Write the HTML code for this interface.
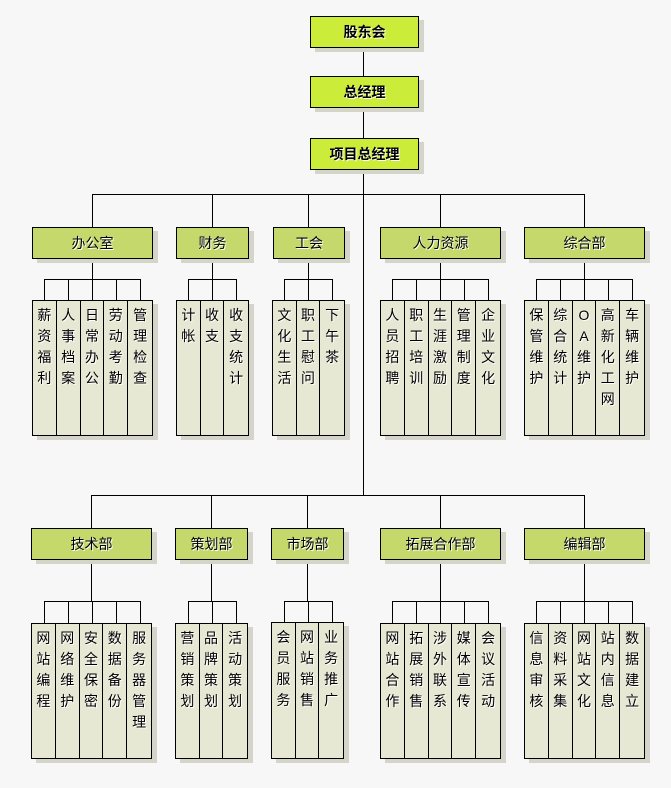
<!DOCTYPE html>
<html><head><meta charset="utf-8"><style>
body{margin:0;background:#f7f7f7;width:671px;height:788px;position:relative;overflow:hidden;font-family:"Liberation Sans","Noto Sans CJK SC","WenQuanYi Zen Hei",sans-serif;}
.b{position:absolute;box-sizing:border-box;border:1px solid #000;text-align:center;font-size:14px;box-shadow:5px 4px 0 #d4d4c8;text-shadow:1px 1px 0 #fff;}
.t{background:#ccec3a;height:32px;line-height:30px;font-weight:bold;left:310px;width:109px;}
.d{background:#c4d86c;height:32px;line-height:30px;}
.g{position:absolute;box-sizing:border-box;border:1px solid #000;display:flex;background:#e6e8d4;box-shadow:5px 4px 0 #d4d4c8;height:136px;}
.l{width:24px;box-sizing:border-box;border-right:1px solid #000;text-align:center;font-size:14px;line-height:21px;padding-top:4px;text-shadow:1px 1px 0 #fff;}
.l:last-child{border-right:none}
svg{position:absolute;left:0;top:0}
</style></head><body>
<svg width="671" height="788" stroke="#000" stroke-width="1" fill="none" shape-rendering="crispEdges">
<path d="M363.5 47V76M363.5 107V138M363.5 169V495"/>
<path d="M92.5 194.5H584.5M92.5 194V227M212.5 194V227M308.5 194V227M440.5 194V227M584.5 194V227"/>
<path d="M92.5 258V279M44.5 279.5H140.5M44.5 279V300M68.5 279V300M92.5 279V300M116.5 279V300M140.5 279V300"/>
<path d="M212.5 258V279M188.5 279.5H236.5M188.5 279V300M212.5 279V300M236.5 279V300"/>
<path d="M308.5 258V279M284.5 279.5H332.5M284.5 279V300M308.5 279V300M332.5 279V300"/>
<path d="M440.5 258V279M392.5 279.5H488.5M392.5 279V300M416.5 279V300M440.5 279V300M464.5 279V300M488.5 279V300"/>
<path d="M584.5 258V279M536.5 279.5H632.5M536.5 279V300M560.5 279V300M584.5 279V300M608.5 279V300M632.5 279V300"/>
<path d="M91.5 495.5H584.5M91.5 495V528M211.5 495V528M307.5 495V528M440.5 495V528M584.5 495V528"/>
<path d="M91.5 560V601M44.5 601.5H140.5M44.5 601V623M68.5 601V623M92.5 601V623M116.5 601V623M140.5 601V623"/>
<path d="M211.5 560V601M188.5 601.5H236.5M188.5 601V623M212.5 601V623M236.5 601V623"/>
<path d="M307.5 560V601M284.5 601.5H332.5M284.5 601V623M308.5 601V623M332.5 601V623"/>
<path d="M440.5 560V601M392.5 601.5H488.5M392.5 601V623M416.5 601V623M440.5 601V623M464.5 601V623M488.5 601V623"/>
<path d="M584.5 560V601M536.5 601.5H632.5M536.5 601V623M560.5 601V623M584.5 601V623M608.5 601V623M632.5 601V623"/>
</svg>
<div class="b t" style="top:16px">股东会</div>
<div class="b t" style="top:76px">总经理</div>
<div class="b t" style="top:138px">项目总经理</div>

<div class="b d" style="left:32px;top:227px;width:121px">办公室</div>
<div class="b d" style="left:176px;top:227px;width:73px">财务</div>
<div class="b d" style="left:273px;top:227px;width:72px">工会</div>
<div class="b d" style="left:380px;top:227px;width:121px">人力资源</div>
<div class="b d" style="left:524px;top:227px;width:121px">综合部</div>

<div class="g" style="left:32px;top:300px;width:121px"><div class="l">薪<br>资<br>福<br>利</div><div class="l">人<br>事<br>档<br>案</div><div class="l">日<br>常<br>办<br>公</div><div class="l">劳<br>动<br>考<br>勤</div><div class="l">管<br>理<br>检<br>查</div></div>
<div class="g" style="left:176px;top:300px;width:73px"><div class="l">计<br>帐</div><div class="l">收<br>支</div><div class="l">收<br>支<br>统<br>计</div></div>
<div class="g" style="left:272px;top:300px;width:73px"><div class="l">文<br>化<br>生<br>活</div><div class="l">职<br>工<br>慰<br>问</div><div class="l">下<br>午<br>茶</div></div>
<div class="g" style="left:380px;top:300px;width:121px"><div class="l">人<br>员<br>招<br>聘</div><div class="l">职<br>工<br>培<br>训</div><div class="l">生<br>涯<br>激<br>励</div><div class="l">管<br>理<br>制<br>度</div><div class="l">企<br>业<br>文<br>化</div></div>
<div class="g" style="left:524px;top:300px;width:121px"><div class="l">保<br>管<br>维<br>护</div><div class="l">综<br>合<br>统<br>计</div><div class="l">O<br>A<br>维<br>护</div><div class="l">高<br>新<br>化<br>工<br>网</div><div class="l">车<br>辆<br>维<br>护</div></div>

<div class="b d" style="left:31px;top:528px;width:121px">技术部</div>
<div class="b d" style="left:175px;top:528px;width:73px">策划部</div>
<div class="b d" style="left:271px;top:528px;width:73px">市场部</div>
<div class="b d" style="left:380px;top:528px;width:121px">拓展合作部</div>
<div class="b d" style="left:524px;top:528px;width:121px">编辑部</div>

<div class="g" style="left:31px;top:623px;width:121px"><div class="l">网<br>站<br>编<br>程</div><div class="l">网<br>络<br>维<br>护</div><div class="l">安<br>全<br>保<br>密</div><div class="l">数<br>据<br>备<br>份</div><div class="l">服<br>务<br>器<br>管<br>理</div></div>
<div class="g" style="left:175px;top:623px;width:73px"><div class="l">营<br>销<br>策<br>划</div><div class="l">品<br>牌<br>策<br>划</div><div class="l">活<br>动<br>策<br>划</div></div>
<div class="g" style="left:271px;top:622px;width:73px;height:137px"><div class="l">会<br>员<br>服<br>务</div><div class="l">网<br>站<br>销<br>售</div><div class="l">业<br>务<br>推<br>广</div></div>
<div class="g" style="left:380px;top:623px;width:121px"><div class="l">网<br>站<br>合<br>作</div><div class="l">拓<br>展<br>销<br>售</div><div class="l">涉<br>外<br>联<br>系</div><div class="l">媒<br>体<br>宣<br>传</div><div class="l">会<br>议<br>活<br>动</div></div>
<div class="g" style="left:524px;top:623px;width:121px"><div class="l">信<br>息<br>审<br>核</div><div class="l">资<br>料<br>采<br>集</div><div class="l">网<br>站<br>文<br>化</div><div class="l">站<br>内<br>信<br>息</div><div class="l">数<br>据<br>建<br>立</div></div>
</body></html>
